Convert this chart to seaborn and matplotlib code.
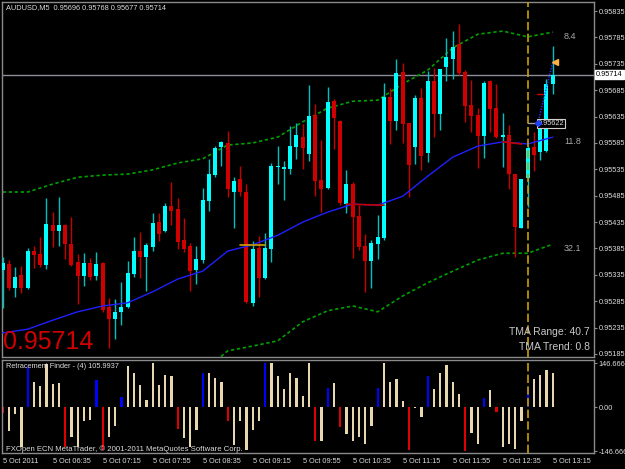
import numpy as np
import matplotlib
matplotlib.use("Agg")
import matplotlib.pyplot as plt
import matplotlib.transforms as mtransforms
import seaborn as sns

# AUDUSD M5 candles, 5 Oct 2011 05:55 .. 13:15
opens = [0.95344, 0.95356, 0.95310, 0.95335, 0.95310, 0.95380, 0.95375, 0.95354, 0.95430, 0.95418,
         0.95430, 0.95394, 0.95359, 0.95333, 0.95358, 0.95333, 0.95358, 0.95274, 0.95251, 0.95265,
         0.95274, 0.95337, 0.95380, 0.95369, 0.95388, 0.95435, 0.95418, 0.95466, 0.95460, 0.95401,
         0.95390, 0.95344, 0.95363, 0.95475, 0.95524, 0.95577, 0.95585, 0.95492, 0.95517, 0.95492,
         0.95282, 0.95386, 0.95329, 0.95384, 0.95539, 0.95536, 0.95536, 0.95577, 0.95596, 0.95564,
         0.95638, 0.95515, 0.95500, 0.95664, 0.95627, 0.95469, 0.95507, 0.95447, 0.95390, 0.95361,
         0.95394, 0.95405, 0.95672, 0.95627, 0.95719, 0.95623, 0.95577, 0.95670, 0.95566, 0.95702,
         0.95640, 0.95729, 0.95744, 0.95773, 0.95719, 0.95657, 0.95638, 0.95598, 0.95702, 0.95651,
         0.95596, 0.95600, 0.95526, 0.95424, 0.95519, 0.95577, 0.95568, 0.95570, 0.95696]
highs = [0.95369, 0.95363, 0.95350, 0.95352, 0.95386, 0.95390, 0.95407, 0.95481, 0.95454, 0.95483,
         0.95431, 0.95445, 0.95375, 0.95376, 0.95367, 0.95378, 0.95359, 0.95291, 0.95289, 0.95322,
         0.95361, 0.95407, 0.95416, 0.95395, 0.95452, 0.95452, 0.95471, 0.95511, 0.95481, 0.95443,
         0.95395, 0.95390, 0.95500, 0.95555, 0.95579, 0.95589, 0.95608, 0.95520, 0.95541, 0.95507,
         0.95399, 0.95409, 0.95414, 0.95547, 0.95579, 0.95551, 0.95617, 0.95623, 0.95621, 0.95695,
         0.95659, 0.95591, 0.95691, 0.95668, 0.95628, 0.95534, 0.95511, 0.95467, 0.95412, 0.95401,
         0.95448, 0.95699, 0.95689, 0.95744, 0.95737, 0.95623, 0.95676, 0.95689, 0.95721, 0.95727,
         0.95725, 0.95784, 0.95797, 0.95810, 0.95723, 0.95704, 0.95651, 0.95702, 0.95704, 0.95697,
         0.95642, 0.95619, 0.95526, 0.95517, 0.95579, 0.95606, 0.95628, 0.95706, 0.95768]
lows = [0.95272, 0.95306, 0.95293, 0.95301, 0.95308, 0.95348, 0.95350, 0.95346, 0.95388, 0.95390,
        0.95365, 0.95352, 0.95280, 0.95314, 0.95325, 0.95325, 0.95265, 0.95196, 0.95213, 0.95240,
        0.95272, 0.95331, 0.95329, 0.95304, 0.95380, 0.95399, 0.95416, 0.95430, 0.95384, 0.95378,
        0.95304, 0.95318, 0.95358, 0.95456, 0.95520, 0.95541, 0.95482, 0.95424, 0.95484, 0.95282,
        0.95276, 0.95293, 0.95327, 0.95359, 0.95507, 0.95477, 0.95526, 0.95555, 0.95536, 0.95551,
        0.95484, 0.95454, 0.95498, 0.95574, 0.95467, 0.95452, 0.95367, 0.95382, 0.95303, 0.95310,
        0.95365, 0.95401, 0.95583, 0.95610, 0.95585, 0.95482, 0.95545, 0.95534, 0.95549, 0.95596,
        0.95610, 0.95702, 0.95706, 0.95714, 0.95625, 0.95606, 0.95538, 0.95556, 0.95606, 0.95594,
        0.95539, 0.95498, 0.95369, 0.95424, 0.95464, 0.95532, 0.95553, 0.95568, 0.95677]
closes = [0.95358, 0.95310, 0.95331, 0.95310, 0.95380, 0.95373, 0.95354, 0.95431, 0.95418, 0.95430,
          0.95394, 0.95354, 0.95333, 0.95358, 0.95331, 0.95356, 0.95268, 0.95251, 0.95265, 0.95274,
          0.95339, 0.95380, 0.95369, 0.95392, 0.95433, 0.95412, 0.95466, 0.95456, 0.95397, 0.95384,
          0.95342, 0.95365, 0.95477, 0.95526, 0.95575, 0.95587, 0.95498, 0.95513, 0.95492, 0.95284,
          0.95384, 0.95329, 0.95386, 0.95541, 0.95541, 0.95539, 0.95579, 0.95600, 0.95575, 0.95636,
          0.95513, 0.95498, 0.95663, 0.95632, 0.95471, 0.95507, 0.95445, 0.95388, 0.95361, 0.95395,
          0.95407, 0.95672, 0.95627, 0.95718, 0.95621, 0.95543, 0.95670, 0.95560, 0.95702, 0.95640,
          0.95725, 0.95748, 0.95767, 0.95718, 0.95655, 0.95636, 0.95598, 0.95699, 0.95649, 0.95596,
          0.95600, 0.95526, 0.95426, 0.95517, 0.95575, 0.95562, 0.95621, 0.95697, 0.95714]

# TMA bands, read every 4th bar
band_bars = [0, 4, 8, 12, 16, 20, 24, 28, 32, 36, 40, 44, 48, 52, 56, 60, 64, 68, 72, 76, 80, 84, 88]
tma_upper = [0.95492, 0.95492, 0.95507, 0.95520, 0.95524, 0.95526, 0.95534, 0.95547, 0.95555, 0.95581,
             0.95585, 0.95596, 0.95625, 0.95651, 0.95664, 0.95666, 0.95697, 0.95723, 0.95765, 0.95791,
             0.95797, 0.95786, 0.95795]
tma_mid = [0.95225, 0.95232, 0.95249, 0.95265, 0.95276, 0.95282, 0.95303, 0.95327, 0.95342, 0.95380,
           0.95392, 0.95410, 0.95435, 0.95454, 0.95469, 0.95467, 0.95484, 0.95522, 0.95558, 0.95579,
           0.95587, 0.95583, 0.95596]
tma_lower = [np.nan] * 8 + [0.95151, 0.95191, 0.95200, 0.95210, 0.95246, 0.95267, 0.95276, 0.95265,
                            0.95295, 0.95320, 0.95342, 0.95363, 0.95376, 0.95376, 0.95393]
# flat stretches of the TMA drawn in other colours
flat_segments = [([38, 42], [0.95392, 0.95392], "#d0a000"),
                 ([55, 61], [0.95469, 0.95467], "#c00000"),
                 ([80, 83], [0.95587, 0.95583], "#c00000")]
band_labels = ["8.4", "11.8", "32.1"]

# Retracement Finder histogram
retr = [-20, -79, -22, -133, 132, 83, 70, 143, 76, 81,
        -133, -99, -133, -45, -43, 89, -144, -99, -63, 34,
        138, 115, 72, 25, 147, 72, 106, 102, -74, -102,
        -133, -77, 115, 113, 98, 83, -45, -127, -45, -144,
        -77, -45, 147, 147, 104, 59, 115, 98, 38, 147,
        -113, -113, 64, 81, -68, -90, -113, -99, -122, -63,
        64, 147, 85, 92, 19, -142, -4, -34, 102, 59,
        113, 140, 85, 42, -147, -86, -124, 30, 56, -15,
        -133, -124, -140, -45, 64, 95, 106, 124, 115]

price_ticks = [0.95185, 0.95235, 0.95285, 0.95335, 0.95385, 0.95435, 0.95485,
               0.95535, 0.95585, 0.95635, 0.95685, 0.95735, 0.95785, 0.95835]
time_ticks = [0, 8, 16, 24, 32, 40, 48, 56, 64, 72, 80, 88]
time_labels = ["5 Oct 2011", "5 Oct 06:35", "5 Oct 07:15", "5 Oct 07:55", "5 Oct 08:35",
               "5 Oct 09:15", "5 Oct 09:55", "5 Oct 10:35", "5 Oct 11:15", "5 Oct 11:55",
               "5 Oct 12:35", "5 Oct 13:15"]
cursor_bar = 84
target_price = 0.95622
proj_bars = [85.6, 88.0]
proj_prices = [0.95622, 0.95738]
mark_bar, mark_price = 86.0, 0.95678

sns.set_theme(style="dark", rc={"axes.facecolor": "black", "figure.facecolor": "black"})
plt.rcParams["font.family"] = ["Liberation Sans", "DejaVu Sans"]

GRID = "#8a8a8a"
TXT = "#dcdcdc"
SMALL = 5.3
W, H = 625, 469
fig = plt.figure(figsize=(6.25, 4.69), dpi=100, facecolor="black")
ax = fig.add_axes([2 / W, 1 - 357 / H, 592 / W, 355 / H])
axh = fig.add_axes([2 / W, 1 - 453 / H, 592 / W, 93 / H])

idx = np.arange(len(opens))
o, h, l, c = map(np.array, (opens, highs, lows, closes))
bull = c >= o

# bands
sns.lineplot(x=band_bars, y=tma_upper, ax=ax, color="#00a000", lw=1.2, linestyle=(0, (2, 1.6)), zorder=2)
sns.lineplot(x=band_bars, y=tma_lower, ax=ax, color="#00a000", lw=1.2, linestyle=(0, (2, 1.6)), zorder=2)

# candles
ax.vlines(idx, l, h, colors=np.where(bull, "#00c0c0", "#c80000"), lw=1, zorder=3)
body_lo = np.minimum(o, c)
body_h = np.maximum(np.abs(c - o), 0.000018)
ax.bar(idx, body_h, bottom=body_lo, width=0.64, color=np.where(bull, "#00ffff", "#d00000"),
       linewidth=0, zorder=4)

sns.lineplot(x=band_bars, y=tma_mid, ax=ax, color="#2020ff", lw=1.0, zorder=5)
for bars, vals, col in flat_segments:
    ax.plot(bars, vals, color=col, lw=1.2, zorder=6)

# current price line and cursor
ax.axhline(closes[-1], color="#8c8c9c", lw=1, zorder=1)
for a in (ax, axh):
    a.axvline(cursor_bar, color="#c8a000", lw=1.2, linestyle=(0, (5, 2)), zorder=7)

ax.plot([cursor_bar, proj_bars[0]], [target_price, target_price], color="#a0a0a0", lw=1, zorder=7)
ax.plot(proj_bars, proj_prices, color="#3030ff", lw=1, linestyle=(0, (1, 1)), zorder=7)
ax.text(proj_bars[0], target_price, "0.95622", fontsize=SMALL, color=TXT, va="center", ha="left", zorder=8,
        bbox=dict(facecolor="black", edgecolor="#d0d0d0", lw=0.8, pad=0.8))
ax.plot(proj_bars[0], target_price, marker="D", ms=3, color="#2040ff", zorder=9)
ax.plot([mark_bar - 0.5, mark_bar + 0.5], [mark_price, mark_price], color="#d00000", lw=1, zorder=7)
ax.plot(proj_bars[1] + 0.3, proj_prices[1], marker="<", ms=4, color="#ffb040", zorder=8)

for val, lab in zip([tma_upper[-1], tma_mid[-1], tma_lower[-1]], band_labels):
    ax.text(89.8, val, lab, fontsize=6.5, color="#a8a8a8", va="top", ha="left")

ax.set_xlim(-0.11, 94.6)
ax.set_ylim(0.951793, 0.958521)
ax.yaxis.tick_right()
ax.set_yticks(price_ticks)
ax.set_yticklabels([f"{p:.5f}" for p in price_ticks])
ax.set_xticks([])
ax.tick_params(axis="y", direction="out", length=2.5, width=0.8, color=GRID, labelsize=SMALL,
               labelcolor=TXT, pad=1)
ax.grid(False)

tr = mtransforms.blended_transform_factory(ax.transAxes, ax.transData)
ax.text(1.003, closes[-1], "0.95714", transform=tr, fontsize=SMALL, color="black", va="center", ha="left",
        bbox=dict(facecolor="white", edgecolor="white", pad=0.8), clip_on=False, zorder=10)

# histogram
cols = []
for i, v in enumerate(retr):
    if i == 0 or np.sign(v) != np.sign(retr[i - 1]):
        cols.append("#0000ff" if v > 0 else "#e00000")
    else:
        cols.append("#e8d8b0")
axh.bar(idx, retr, width=0.34, color=cols, linewidth=0)
axh.set_xlim(-0.11, 94.6)
axh.set_ylim(-153.3, 156.7)
axh.yaxis.tick_right()
axh.set_yticks([146.6667, 0, -146.6667])
axh.set_yticklabels(["146.6667", "0.00", "-146.6667"])
axh.set_xticks(time_ticks)
axh.set_xticklabels(time_labels, ha="left")
axh.tick_params(axis="both", direction="out", length=2.5, width=0.8, color=GRID, labelsize=SMALL,
                labelcolor=TXT, pad=1)
axh.grid(False)

for a in (ax, axh):
    for s in a.spines.values():
        s.set_color(GRID)
        s.set_linewidth(1)

fig.text(6 / W, 1 - 8 / H, "AUDUSD,M5  0.95696 0.95768 0.95677 0.95714", fontsize=SMALL, color=TXT,
         va="center")
fig.text(3 / W, 1 - 349 / H, "0.95714", fontsize=18, color="#d00000", va="baseline")
fig.text(590 / W, 1 - 332 / H, "TMA Range: 40.7", fontsize=7.5, color="#c8c8c8", ha="right", va="center")
fig.text(590 / W, 1 - 347 / H, "TMA Trend: 0.8", fontsize=7.5, color="#c8c8c8", ha="right", va="center")
fig.text(6 / W, 1 - 367 / H, "Retracement Finder - (4) 105.9937", fontsize=SMALL, color=TXT, va="center")
fig.text(6 / W, 1 - 449 / H, "FXOpen ECN MetaTrader, \u00a9 2001-2011 MetaQuotes Software Corp.",
         fontsize=5.6, color=TXT, va="center")

fig.savefig("out.png", dpi=100, facecolor="black")
